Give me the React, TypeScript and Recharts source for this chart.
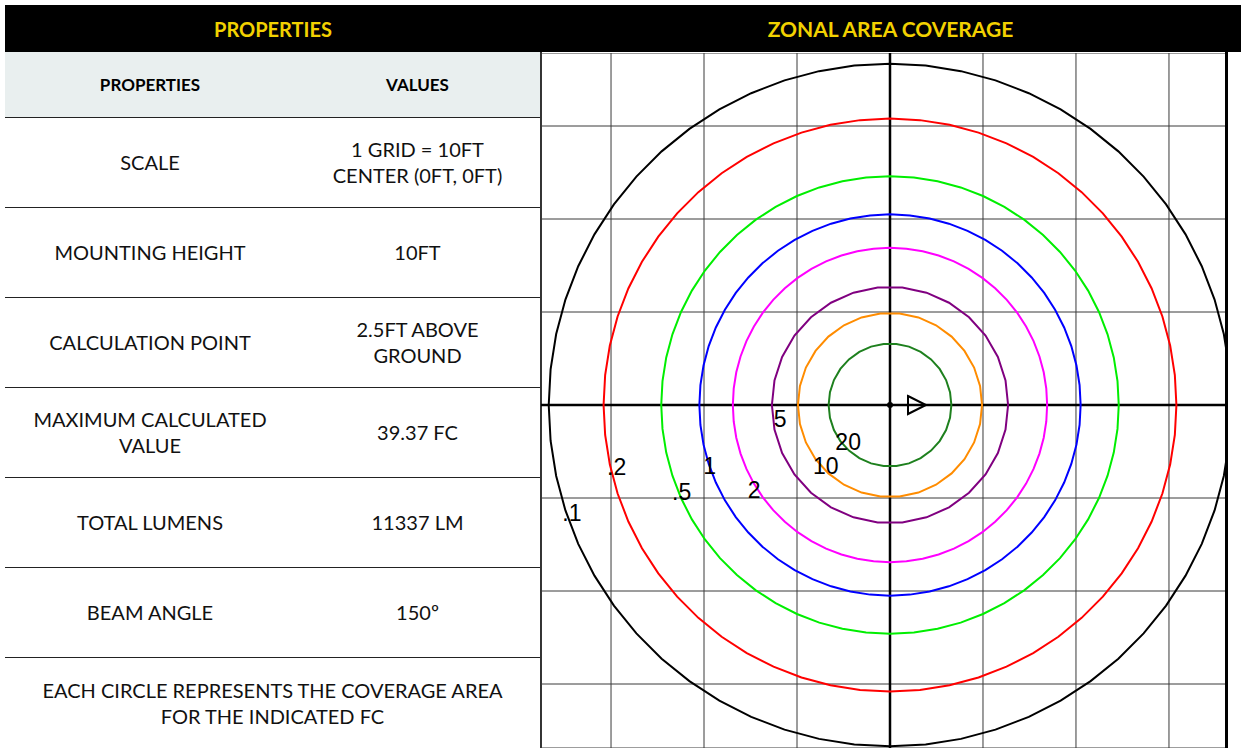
import React from 'react';
import { ScatterChart, Scatter, XAxis, YAxis, CartesianGrid, ReferenceLine } from 'recharts';

// isolux contour levels (fc) and their coverage radius in feet
const contourLevels = ['.1', '.2', '.5', '1', '2', '5', '10', '20'];
const contourRadii = [36.7, 30.8, 24.6, 20.5, 16.9, 12.7, 9.9, 6.6];
const contourColors = ['#000000', '#ff0000', '#00ee00', '#0000ff', '#ff00ff', '#800080', '#ff8c00', '#1e801e'];

// where each level's label sits (feet)
const labelX = [-34.2, -29.4, -22.4, -19.4, -14.6, -11.8, -6.9, -4.5];
const labelY = [-11.6, -6.7, -9.4, -6.6, -9.1, -1.5, -6.6, -4.0];

const gridTicks = [-30, -20, -10, 0, 10, 20, 30];
const xDomain: [number, number] = [-37.53, 36.24];
const yDomain: [number, number] = [-36.88, 37.85];

const propertyNames = ['SCALE', 'MOUNTING HEIGHT', 'CALCULATION POINT', 'MAXIMUM CALCULATED\nVALUE', 'TOTAL LUMENS', 'BEAM ANGLE'];
const propertyValues = ['1 GRID = 10FT\nCENTER (0FT, 0FT)', '10FT', '2.5FT ABOVE\nGROUND', '39.37 FC', '11337 LM', '150º'];
const footNote = 'EACH CIRCLE REPRESENTS THE COVERAGE AREA\nFOR THE INDICATED FC';

const contourData = contourRadii.map(r => {
  const segments = r > 15 ? 60 : 30;
  const pts = [];
  for (let i = 0; i <= segments; i++) {
    const a = (i / segments) * Math.PI * 2;
    pts.push({ x: r * Math.cos(a), y: r * Math.sin(a) });
  }
  return pts;
});
const labelData = contourLevels.map((label, i) => ({ x: labelX[i], y: labelY[i], label }));
const fixture = [{ x: 0, y: 0 }];

const font = 'Lato, "Open Sans", sans-serif';
const yellow = '#f2d100';

const noShape = () => null;

const LabelShape = (props: any) => <text x={props.cx} y={props.cy} textAnchor="middle" dominantBaseline="central" fontSize={23} fontFamily='"Liberation Sans", Arial, sans-serif' fill="#000">
    {props.payload.label}
  </text>;

const FixtureShape = (props: any) => {
  const { cx, cy } = props;
  return <g>
      <circle cx={cx} cy={cy} r={3} fill="#000" />
      <path d={`M${cx + 18},${cy - 9} L${cx + 36},${cy} L${cx + 18},${cy + 9} Z`} fill="none" stroke="#000" strokeWidth={2} />
    </g>;
};

function MultiLine({ text }: { text: string }) {
  return <>{text.split('\n').map((t, i) => <div key={i}>{t}</div>)}</>;
}

function PropertiesTable() {
  const rowTop = 118;
  const rowH = 90;
  return <div style={{ position: 'absolute', left: 5, top: 5, width: 536, height: 743, fontFamily: font }}>
      <div style={{ position: 'absolute', left: 0, top: 0, width: 536, height: 47, background: '#000', color: yellow, fontWeight: 700, fontSize: 20, display: 'flex', alignItems: 'center', justifyContent: 'center' }}>
        PROPERTIES
      </div>
      <div style={{ position: 'absolute', left: 0, top: 47, width: 535, height: 65, background: '#e9efef', borderBottom: '1.5px solid #222', fontWeight: 700, fontSize: 17, display: 'flex', alignItems: 'center' }}>
        <div style={{ width: 290, textAlign: 'center' }}>PROPERTIES</div>
        <div style={{ width: 245, textAlign: 'center' }}>VALUES</div>
      </div>
      {propertyNames.map((name, i) => <div key={name} style={{ position: 'absolute', left: 0, top: rowTop - 5 + i * rowH, width: 535, height: rowH - 1.5, borderBottom: '1.5px solid #222', fontSize: 20, lineHeight: '26px', display: 'flex', alignItems: 'center', color: '#111' }}>
          <div style={{ width: 290, textAlign: 'center' }}><MultiLine text={name} /></div>
          <div style={{ width: 245, textAlign: 'center' }}><MultiLine text={propertyValues[i]} /></div>
        </div>)}
      <div style={{ position: 'absolute', left: 0, top: rowTop - 5 + propertyNames.length * rowH, width: 535, height: rowH, fontSize: 20, lineHeight: '26px', textAlign: 'center', display: 'flex', alignItems: 'center', justifyContent: 'center', color: '#111' }}>
        <div><MultiLine text={footNote} /></div>
      </div>
    </div>;
}

export default function App() {
  return <div style={{ position: 'absolute', left: 0, top: 0, width: 1241, height: 748, background: '#fff', overflow: 'hidden' }}>
      <PropertiesTable />
      <div style={{ position: 'absolute', left: 540, top: 5, width: 701, height: 47, background: '#000', color: yellow, fontWeight: 700, fontSize: 21, fontFamily: font, display: 'flex', alignItems: 'center', justifyContent: 'center' }}>
        ZONAL AREA COVERAGE
      </div>
      <div style={{ position: 'absolute', left: 540, top: 52, width: 1.5, height: 696, background: '#333' }} />
      <div style={{ position: 'absolute', left: 541, top: 53 }}>
        <ScatterChart width={686} height={695} margin={{ top: 0, right: 0, bottom: 0, left: 0 }}>
          <XAxis type="number" dataKey="x" domain={xDomain} ticks={gridTicks} allowDataOverflow hide />
          <YAxis type="number" dataKey="y" domain={yDomain} ticks={gridTicks} allowDataOverflow hide />
          <CartesianGrid stroke="#3a3a3a" strokeWidth={1} />
          <ReferenceLine x={0} stroke="#000" strokeWidth={2.5} />
          <ReferenceLine y={0} stroke="#000" strokeWidth={2.5} />
          {contourData.map((pts, i) => <Scatter key={contourLevels[i]} data={pts} line={{ stroke: contourColors[i], strokeWidth: 2 }} lineType="joint" shape={noShape} isAnimationActive={false} />)}
          <Scatter data={labelData} shape={LabelShape} isAnimationActive={false} />
          <Scatter data={fixture} shape={FixtureShape} isAnimationActive={false} />
        </ScatterChart>
      </div>
      <div style={{ position: 'absolute', left: 1225, top: 52, width: 3, height: 696, background: '#000' }} />
    </div>;
}
